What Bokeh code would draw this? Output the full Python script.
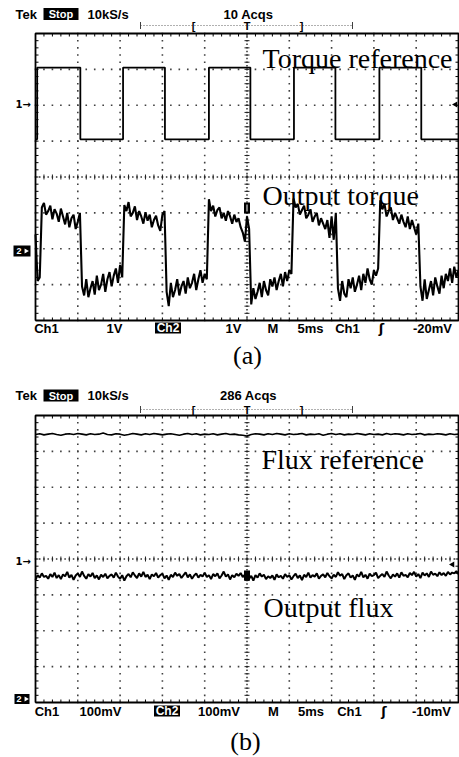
import numpy as np
from bokeh.plotting import figure
from bokeh.layouts import column
from bokeh.models import Range1d
from bokeh.core.properties import value
from bokeh.embed import file_html
from bokeh.resources import INLINE

# ---------------- data (oscilloscope screen divisions, 10 x 8 graticule) ----------------
SAMPLE_DIV = 0.05          # sample spacing of the noisy traces (divisions)
FLUX_REF_SAMPLE_DIV = 0.1  # sample spacing of the flux reference trace

# (a) torque reference: square wave, edge times (div) and levels (div)
torque_ref_edges = [0.04, 1.06, 2.07, 3.06, 4.10, 5.08, 6.11, 7.09, 8.13, 9.12]
torque_ref_low = 1.05
torque_ref_high = 3.05

# (a) output torque samples (div)
torque_out = [
    -1.60, -2.90, -2.80,
    -0.85, -0.72, -1.05, -0.95, -0.80, -1.18, -0.90, -1.02, -1.25, -0.88, -1.10, -1.32, -1.00, -1.40, -1.15, -1.05, -1.45, -1.25, -1.00,
    -3.05, -3.30, -2.85, -3.35, -3.10, -2.90, -3.28, -2.75, -3.15, -3.00, -2.70, -3.20, -2.85, -2.65, -3.05, -2.75, -2.55, -2.95, -2.45, -2.80,
    -0.78, -0.95, -0.70, -1.10, -1.00, -0.82, -1.20, -0.95, -1.10, -1.30, -0.98, -1.22, -1.05, -1.40, -1.20, -1.08, -1.35, -1.50, -1.05, -0.95,
    -3.20, -3.60, -2.95, -3.35, -3.15, -2.85, -3.30, -3.05, -2.90, -3.25, -2.80, -3.10, -2.95, -2.70, -3.15, -2.85, -2.60, -2.95, -2.70, -2.85,
    -0.62, -0.95, -0.80, -1.10, -0.92, -0.85, -1.15, -1.00, -1.22, -0.95, -1.10, -1.30, -1.05, -1.25, -1.15, -1.40, -1.55, -1.80, -1.10, -1.45,
    -3.55, -3.10, -3.40, -3.20, -2.95, -3.35, -2.90, -3.15, -3.30, -2.85, -3.05, -2.80, -3.15, -2.90, -2.70, -3.05, -2.65, -2.90, -2.60, -2.70,
    -0.60, -0.85, -0.75, -1.05, -0.92, -0.80, -1.15, -1.05, -0.90, -1.25, -1.10, -1.00, -1.35, -1.15, -1.30, -1.45, -1.20, -1.70, -1.10, -1.75, -1.00,
    -3.10, -3.45, -2.90, -3.25, -3.35, -2.85, -3.10, -2.80, -3.20, -3.00, -2.75, -3.15, -2.70, -2.95, -2.55, -2.85, -3.00, -2.60, -2.75, -2.55,
    -0.65, -0.90, -0.75, -1.10, -0.95, -0.85, -1.20, -1.00, -1.15, -1.30, -1.05, -1.25, -1.40, -1.10, -1.45, -1.20, -1.40, -1.60, -1.30,
    -3.05, -3.45, -2.85, -3.40, -3.15, -2.90, -3.30, -2.80, -3.05, -3.25, -2.75, -3.10, -2.70, -2.90, -2.55, -2.95, -2.50, -2.80, -2.60,
]

# (b) flux reference samples (div)
flux_ref = [
    3.47, 3.49, 3.46, 3.48, 3.50, 3.47, 3.45, 3.48, 3.49, 3.47, 3.50, 3.48, 3.46, 3.49, 3.47, 3.48, 3.51, 3.47, 3.46, 3.49,
    3.48, 3.45, 3.47, 3.50, 3.48, 3.46, 3.49, 3.47, 3.50, 3.48, 3.46, 3.48, 3.49, 3.47, 3.45, 3.48, 3.50, 3.47, 3.49, 3.46,
    3.48, 3.47, 3.49, 3.46, 3.48, 3.50, 3.47, 3.48, 3.46, 3.45, 3.43, 3.47, 3.49, 3.48, 3.46, 3.49, 3.47, 3.50, 3.48, 3.46,
    3.49, 3.47, 3.48, 3.50, 3.46, 3.48, 3.47, 3.49, 3.45, 3.48, 3.50, 3.47, 3.49, 3.46, 3.48, 3.47, 3.50, 3.48, 3.46, 3.49,
    3.47, 3.48, 3.46, 3.50, 3.47, 3.49, 3.48, 3.46, 3.49, 3.47, 3.48, 3.50, 3.46, 3.48, 3.47, 3.49, 3.48, 3.46, 3.49, 3.47,
    3.48,
]

# (b) output flux samples (div)
flux_out = [
    -0.58, -0.45, -0.52, -0.40, -0.50, -0.47, -0.55, -0.42, -0.50, -0.38, -0.53, -0.45, -0.56, -0.43, -0.48, -0.36, -0.52, -0.44, -0.58, -0.46,
    -0.40, -0.50, -0.35, -0.47, -0.55, -0.42, -0.49, -0.39, -0.53, -0.46, -0.57, -0.44, -0.50, -0.41, -0.54, -0.47, -0.43, -0.52, -0.38, -0.49,
    -0.55, -0.45, -0.60, -0.48, -0.42, -0.51, -0.37, -0.46, -0.53, -0.40, -0.49, -0.36, -0.50, -0.44, -0.56, -0.43, -0.48, -0.39, -0.52, -0.45,
    -0.41, -0.54, -0.46, -0.58, -0.44, -0.50, -0.38, -0.47, -0.42, -0.53, -0.45, -0.37, -0.51, -0.43, -0.55, -0.46, -0.40, -0.52, -0.44, -0.49,
    -0.38, -0.50, -0.45, -0.56, -0.42, -0.48, -0.40, -0.54, -0.46, -0.35, -0.49, -0.43, -0.57, -0.45, -0.51, -0.41, -0.47, -0.39, -0.50, -0.44,
    -0.42, -0.55, -0.47, -0.60, -0.45, -0.52, -0.40, -0.49, -0.44, -0.56, -0.48, -0.53, -0.46, -0.58, -0.43, -0.51, -0.47, -0.55, -0.42, -0.50,
    -0.45, -0.57, -0.48, -0.41, -0.53, -0.46, -0.59, -0.44, -0.50, -0.38, -0.52, -0.45, -0.49, -0.40, -0.55, -0.47, -0.43, -0.51, -0.39, -0.48,
    -0.54, -0.44, -0.50, -0.37, -0.47, -0.42, -0.56, -0.45, -0.40, -0.52, -0.46, -0.58, -0.43, -0.49, -0.36, -0.51, -0.44, -0.55, -0.41, -0.48,
    -0.45, -0.38, -0.53, -0.47, -0.42, -0.50, -0.35, -0.46, -0.54, -0.43, -0.49, -0.40, -0.52, -0.37, -0.47, -0.44, -0.51, -0.39, -0.45, -0.36,
    -0.49, -0.42, -0.53, -0.38, -0.46, -0.40, -0.50, -0.35, -0.44, -0.41, -0.48, -0.37, -0.45, -0.39, -0.47, -0.36, -0.43, -0.38, -0.40, -0.34,
    -0.42,
]

# texts
header_a = {"tek": "Tek", "state": "Stop", "rate": "10kS/s", "acqs": "10 Acqs"}
header_b = {"tek": "Tek", "state": "Stop", "rate": "10kS/s", "acqs": "286 Acqs"}
footer_a = ["Ch1", "1V", "Ch2", "1V", "M", "5ms", "Ch1", "\u0283", "-20mV"]
footer_b = ["Ch1", "100mV", "Ch2", "100mV", "M", "5ms", "Ch1", "\u0283", "-10mV"]
footer_a_px = [46, 114, 167.5, 233, 272.5, 310, 347, 381, 432]
footer_b_px = [46.5, 100, 166.5, 218.5, 273, 310.5, 349, 383.5, 431]

# ---------------- layout ----------------
W = 459
PX_X = 42.3
PX_Y = 35.875
FRAME_LEFT = 35
X_START = -FRAME_LEFT / PX_X
X_END = X_START + W / PX_X
SANS = value("Liberation Sans")
SERIF = value("Liberation Serif")


def X(px):
    return (px - FRAME_LEFT) / PX_X


def make_panel(height, frame_top):
    y_end = 4 + frame_top / PX_Y
    y_start = y_end - height / PX_Y
    p = figure(width=W, height=height, x_range=Range1d(X_START, X_END),
               y_range=Range1d(y_start, y_end), output_backend="svg",
               toolbar_location=None, min_border=0,
               x_axis_location=None, y_axis_location=None)
    p.grid.visible = False
    p.outline_line_color = None
    p.background_fill_color = "white"
    p.border_fill_color = "white"
    return p


def txt(p, x, y, s, size, align="left", baseline="middle", color="black",
        font=SANS, style="bold"):
    p.text(x=[x], y=[y], text=[s], text_font=font,
           text_font_size=value(f"{size}px"), text_font_style=value(style),
           text_align=align, text_baseline=baseline, text_color=color)


def graticule(p):
    fy = np.round(np.arange(-4, 4.0001, 0.2), 3)
    fx = np.round(np.arange(0, 10.0001, 0.2), 3)
    gx, gy = [], []
    for xv in range(1, 10):
        if xv != 5:
            gx += [xv] * len(fy)
            gy += list(fy)
    for yv in range(-3, 4):
        if yv != 0:
            gx += list(fx)
            gy += [yv] * len(fx)
    p.scatter(gx, gy, marker="square", size=1.6, fill_color="#404040", line_color=None)
    cy = np.round(np.arange(-4, 4.0001, 0.1), 3)
    cx = np.round(np.arange(0, 10.0001, 0.1), 3)
    p.scatter([5] * len(cy), cy, marker="square", size=1.5, fill_color="#303030", line_color=None)
    p.scatter(cx, [0] * len(cx), marker="square", size=1.5, fill_color="#303030", line_color=None)
    tx = 2.5 / PX_X
    ty = 2.5 / PX_Y
    p.segment(x0=[5 - tx] * len(fy), y0=fy, x1=[5 + tx] * len(fy), y1=fy,
              line_color="#202020", line_width=1)
    p.segment(x0=fx, y0=[-ty] * len(fx), x1=fx, y1=[ty] * len(fx),
              line_color="#202020", line_width=1)
    bx = 3 / PX_X
    by = 3 / PX_Y
    p.segment(x0=fx, y0=[4] * len(fx), x1=fx, y1=[4 - by] * len(fx), line_color="black", line_width=1)
    p.segment(x0=fx, y0=[-4] * len(fx), x1=fx, y1=[-4 + by] * len(fx), line_color="black", line_width=1)
    p.segment(x0=[0] * len(fy), y0=fy, x1=[bx] * len(fy), y1=fy, line_color="black", line_width=1)
    p.segment(x0=[10] * len(fy), y0=fy, x1=[10 - bx] * len(fy), y1=fy, line_color="black", line_width=1)
    p.line([0, 10, 10, 0, 0], [-4, -4, 4, 4, -4], line_color="black", line_width=1.8)


def header(p, Y, hdr, y_hdr, y_bar):
    y = Y(y_hdr)
    txt(p, X(15), y, hdr["tek"], 13)
    p.rect(x=[X(60.5)], y=[y], width=35 / PX_X, height=12 / PX_Y, fill_color="black", line_color=None)
    txt(p, X(60.5), y, hdr["state"], 11, align="center", color="white")
    txt(p, X(87), y, hdr["rate"], 13)
    txt(p, X(248), y, hdr["acqs"], 13, align="center")
    yb = Y(y_bar)
    p.line([X(140), X(352)], [yb, yb], line_color="#606060", line_width=1, line_dash="1 2")
    h = 3.5 / PX_Y
    p.segment(x0=[X(140), X(352)], y0=[yb - h, yb - h], x1=[X(140), X(352)], y1=[yb + h, yb + h],
              line_color="#404040", line_width=1)
    for s, xp in (("[", 193), ("T", 246.5), ("]", 301)):
        txt(p, X(xp), yb, s, 11, align="center")


def footer(p, Y, labels, xs_px, y_px):
    y = Y(y_px)
    for i, (s, xp) in enumerate(zip(labels, xs_px)):
        if i == 2:
            p.rect(x=[X(xp)], y=[y], width=26 / PX_X, height=11 / PX_Y, fill_color="black", line_color=None)
            txt(p, X(xp), y, s, 12, align="center", color="white")
        else:
            f = value("DejaVu Sans") if s == "\u0283" else SANS
            txt(p, X(xp), y, s, 13, align="center", font=f)


def ch_markers(p, Y, y1_px, y2_px, box_w, box_h):
    txt(p, X(15), Y(y1_px), "1\u2192", 10, font=value("DejaVu Sans"))
    p.rect(x=[X(21.5)], y=[Y(y2_px)], width=box_w / PX_X, height=box_h / PX_Y,
           fill_color="black", line_color=None)
    txt(p, X(18.5), Y(y2_px), "2", 9, align="center", color="white")
    p.scatter([X(25.5)], [Y(y2_px)], marker="triangle", angle=-np.pi / 2, size=5,
              fill_color="white", line_color=None)


# ---------------- panel (a) ----------------
pa = make_panel(380, 33)
YA = lambda py: 4 - (py - 33) / PX_Y
graticule(pa)

ref_t, ref_v = [0.0], [torque_ref_low]
level = torque_ref_low
for e in torque_ref_edges:
    ref_t.append(e)
    ref_v.append(level)
    level = torque_ref_high if level == torque_ref_low else torque_ref_low
    ref_t.append(e)
    ref_v.append(level)
ref_t.append(10.0)
ref_v.append(level)
pa.line(ref_t, ref_v, line_color="black", line_width=1.8)

t_out = np.arange(len(torque_out)) * SAMPLE_DIV
pa.line(t_out, torque_out, line_color="black", line_width=2.1)

pa.rect(x=[5.0], y=[YA(207.5)], width=6 / PX_X, height=11 / PX_Y, fill_color="black", line_color=None)
pa.segment(x0=[5.0], y0=[YA(204)], x1=[5.0], y1=[YA(211)], line_color="white", line_width=1)
pa.scatter([X(455)], [YA(104)], marker="triangle", angle=np.pi / 2, size=6, fill_color="black", line_color=None)

txt(pa, X(262), YA(58), "Torque reference", 28, baseline="alphabetic", font=SERIF, style="normal")
txt(pa, X(262), YA(194.5), "Output torque", 28, baseline="alphabetic", font=SERIF, style="normal")
header(pa, YA, header_a, 13.5, 25)
footer(pa, YA, footer_a, footer_a_px, 327.5)
ch_markers(pa, YA, 104, 250.5, 17, 11)
txt(pa, X(247), YA(355), "(a)", 26, align="center", font=SERIF, style="normal")

# ---------------- panel (b) ----------------
pb = make_panel(377, 35)
YB = lambda py: 4 - (py - 415) / PX_Y
graticule(pb)

t_fr = np.arange(len(flux_ref)) * FLUX_REF_SAMPLE_DIV
pb.line(t_fr, flux_ref, line_color="black", line_width=1.6)
t_fo = np.arange(len(flux_out)) * SAMPLE_DIV
pb.line(t_fo, flux_out, line_color="black", line_width=2.0)

pb.rect(x=[5.0], y=[YB(575)], width=6 / PX_X, height=10 / PX_Y, fill_color="black", line_color=None)
pb.scatter([X(452)], [YB(564)], marker="triangle", angle=np.pi / 2, size=6, fill_color="black", line_color=None)

txt(pb, X(261), YB(458.5), "Flux reference", 28, baseline="alphabetic", font=SERIF, style="normal")
txt(pb, X(263), YB(606.5), "Output flux", 28, baseline="alphabetic", font=SERIF, style="normal")
header(pb, YB, header_b, 395, 409)
footer(pb, YB, footer_b, footer_b_px, 710.5)
ch_markers(pb, YB, 561, 698.5, 15, 10)
txt(pb, X(245), YB(741), "(b)", 26, align="center", font=SERIF, style="normal")

layout = column(pa, pb)
open("out.html", "w").write(file_html(layout, INLINE))
